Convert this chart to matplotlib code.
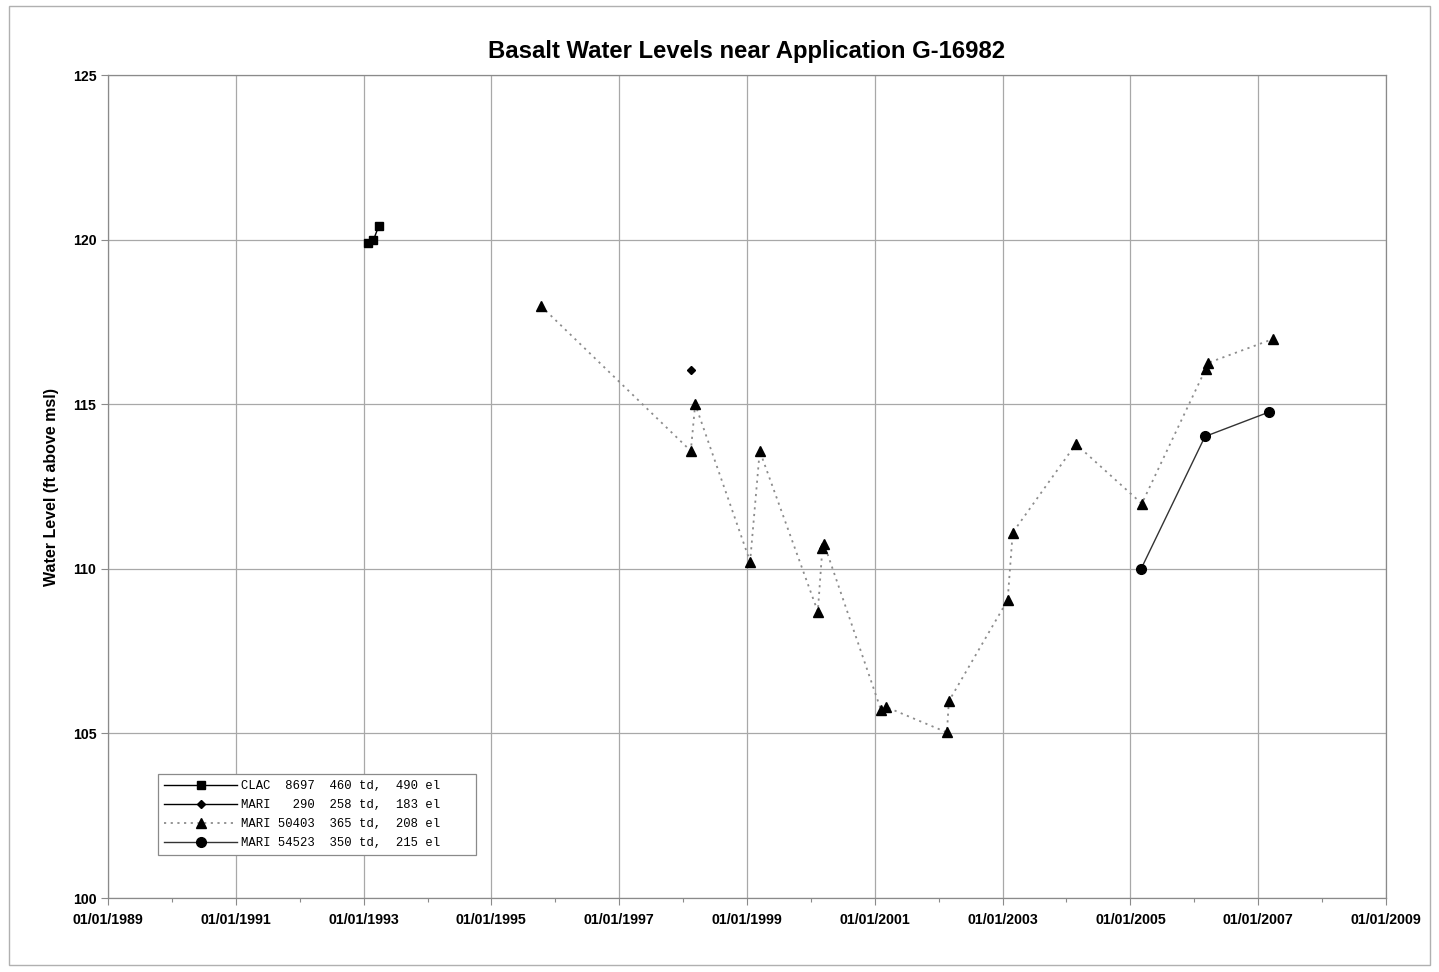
import matplotlib
matplotlib.use("Agg")
import matplotlib.pyplot as plt
import matplotlib.dates as mdates
import matplotlib.ticker as mticker
import pandas as pd
from matplotlib.patches import Rectangle

# ---------------- data ----------------
clac_dates = ["1993-01-23", "1993-02-25", "1993-03-29"]
clac_vals = [119.90, 119.98, 120.42]

mari290_dates = ["1998-02-14"]
mari290_vals = [116.04]

mari50403_dates = ["1995-10-12", "1998-02-14", "1998-03-11", "1999-01-19", "1999-03-15",
                   "2000-02-10", "2000-03-07", "2000-03-18", "2001-02-06", "2001-03-08",
                   "2002-02-17", "2002-02-28", "2003-01-30", "2003-02-28", "2004-02-24",
                   "2005-03-07", "2006-03-07", "2006-03-18", "2007-03-26"]
mari50403_vals = [117.98, 113.58, 115.00, 110.22, 113.58,
                  108.70, 110.62, 110.74, 105.70, 105.80,
                  105.03, 105.98, 109.05, 111.10, 113.79,
                  111.98, 116.07, 116.25, 116.98]

mari54523_dates = ["2005-03-03", "2006-03-03", "2007-03-03"]
mari54523_vals = [110.00, 114.02, 114.76]

legend_labels = ["CLAC  8697  460 td,  490 el    ",
                 "MARI   290  258 td,  183 el    ",
                 "MARI 50403  365 td,  208 el    ",
                 "MARI 54523  350 td,  215 el    "]

x_tick_dates = ["1989-01-01", "1991-01-01", "1993-01-01", "1995-01-01", "1997-01-01",
                "1999-01-01", "2001-01-01", "2003-01-01", "2005-01-01", "2007-01-01",
                "2009-01-01"]
x_minor_dates = ["1990-01-01", "1992-01-01", "1994-01-01", "1996-01-01", "1998-01-01",
                 "2000-01-01", "2002-01-01", "2004-01-01", "2006-01-01", "2008-01-01"]

title = "Basalt Water Levels near Application G-16982"
ylabel = "Water Level (ft above msl)"
x_start, x_end = "1989-01-01", "2009-01-01"
y_min, y_max = 100, 125

# ---------------- figure ----------------
plt.rcParams['font.family'] = ['Liberation Sans', 'DejaVu Sans']
fig = plt.figure(figsize=(14.39, 9.72), dpi=100)
fig.patches.append(Rectangle((0.006, 0.007), 0.988, 0.987, transform=fig.transFigure,
                             fill=False, edgecolor='#b0b0b0', linewidth=1.0))
ax = fig.add_axes([0.0751, 0.0761, 0.8881, 0.8467])

td = lambda d: pd.to_datetime(d)

ax.plot(td(clac_dates), clac_vals, color='black', linestyle='-', linewidth=1.0,
        marker='s', markersize=6, label=legend_labels[0], zorder=5)
ax.plot(td(mari290_dates), mari290_vals, color='black', linestyle='-', linewidth=1.0,
        marker='D', markersize=4.5, label=legend_labels[1], zorder=5)
ax.plot(td(mari50403_dates), mari50403_vals, color='#8c8c8c', linestyle=(0, (1.2, 2.5)),
        linewidth=1.3, marker='^', markersize=7, markerfacecolor='black',
        markeredgecolor='black', label=legend_labels[2], zorder=4)
ax.plot(td(mari54523_dates), mari54523_vals, color='#333333', linestyle='-', linewidth=1.0,
        marker='o', markersize=7, markerfacecolor='black', markeredgecolor='black',
        label=legend_labels[3], zorder=5)

ax.set_xlim(td(x_start), td(x_end))
ax.set_ylim(y_min, y_max)
ax.xaxis.set_major_locator(mticker.FixedLocator(mdates.date2num(td(x_tick_dates))))
ax.xaxis.set_minor_locator(mticker.FixedLocator(mdates.date2num(td(x_minor_dates))))
ax.xaxis.set_major_formatter(mdates.DateFormatter("%m/%d/%Y"))
ax.set_yticks(range(y_min, y_max + 1, 5))
ax.grid(True, which='major', color='#a8a8a8', linewidth=0.9)
ax.set_axisbelow(True)
for s in ax.spines.values():
    s.set_color('#8a8a8a')
    s.set_linewidth(0.9)
ax.tick_params(axis='both', which='major', length=5, color='#8a8a8a', width=0.8,
               labelsize=10.2)
ax.tick_params(axis='x', which='major', pad=6)
ax.tick_params(axis='x', which='minor', length=3, color='#8a8a8a', width=0.8)
for lab in ax.get_xticklabels() + ax.get_yticklabels():
    lab.set_fontweight('bold')

ax.set_title(title, fontsize=17.2, fontweight='bold', pad=12)
ax.set_ylabel(ylabel, fontsize=11.5, fontweight='bold', labelpad=10)

leg = ax.legend(loc='lower left', bbox_to_anchor=(0.039, 0.052),
                prop={'family': 'Liberation Mono', 'size': 8.8},
                frameon=True, fancybox=False, edgecolor='#8a8a8a', framealpha=1,
                handlelength=6.0, handletextpad=0.3, borderpad=0.5,
                labelspacing=0.58, borderaxespad=0)
leg.get_frame().set_linewidth(0.9)

fig.savefig("out.png", dpi=100)
